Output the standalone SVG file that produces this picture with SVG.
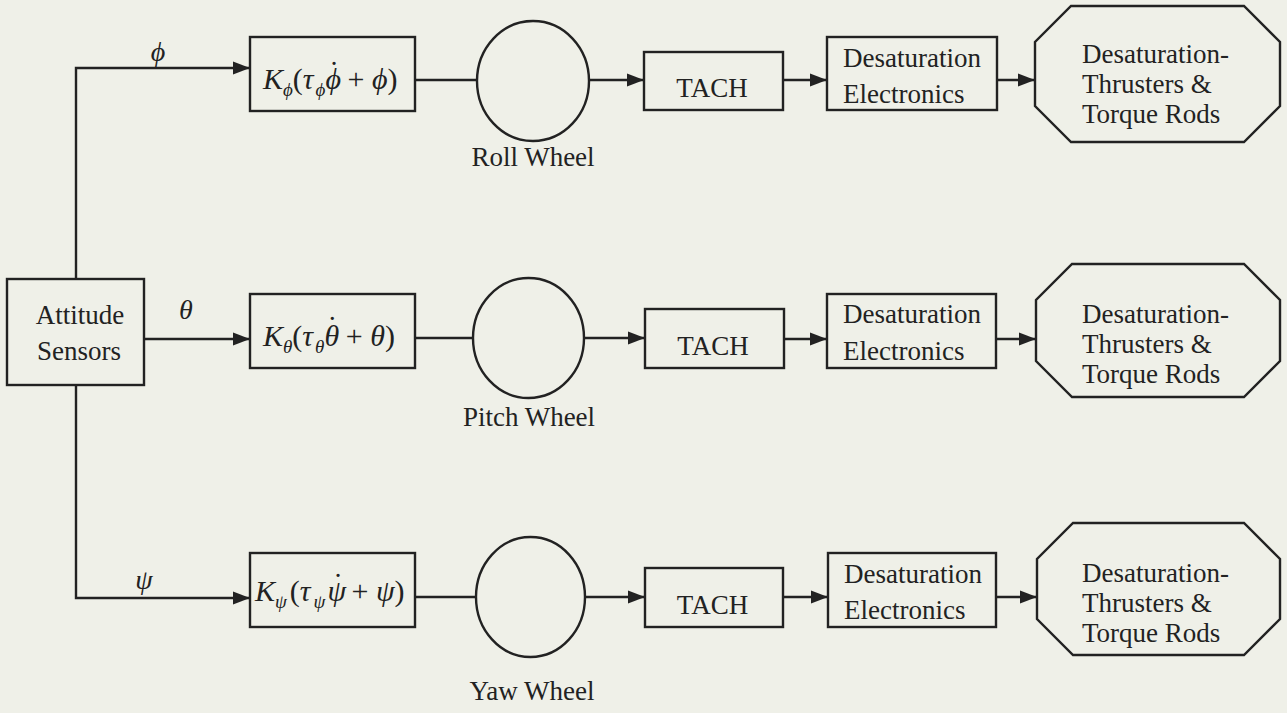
<svg xmlns="http://www.w3.org/2000/svg" width="1287" height="713" viewBox="0 0 1287 713">
<defs>
<marker id="ah" markerUnits="userSpaceOnUse" markerWidth="18" markerHeight="14" refX="17" refY="7" orient="auto">
<path d="M0,0.5 L17,7 L0,13.5 z" fill="#222"/>
</marker>
<style>
.box{fill:none;stroke:#222;stroke-width:2.4}
.ln{fill:none;stroke:#222;stroke-width:2.4}
.ar{fill:none;stroke:#222;stroke-width:2.4;marker-end:url(#ah)}
.t{font-family:"Liberation Serif","Times New Roman",serif;font-size:27px;fill:#222}
.tc{text-anchor:middle}
.m{font-family:"Liberation Serif","DejaVu Serif",serif;font-style:italic;font-size:30px;fill:#222}
.sub{font-size:19px}
.up{font-style:normal}
.lab{font-family:"Liberation Serif","DejaVu Serif",serif;font-style:italic;font-size:28px;fill:#222}
</style>
</defs>
<rect width="1287" height="713" fill="#eff0e8"/>

<g id="connectors">
<path class="ar" d="M76,279 V68 H250"/>
<path class="ar" d="M144,339 H250"/>
<path class="ar" d="M76,385 V598 H250"/>
<path class="ln" d="M415,80 H477"/>
<path class="ln" d="M415,338 H473"/>
<path class="ln" d="M415,597 H476"/>
<path class="ar" d="M589,80 H644"/>
<path class="ar" d="M584,338 H645"/>
<path class="ar" d="M585,597 H645"/>
<path class="ar" d="M783,80 H827"/>
<path class="ar" d="M784,339 H827"/>
<path class="ar" d="M783,597 H828"/>
<path class="ar" d="M997,80 H1035"/>
<path class="ar" d="M996,339 H1036"/>
<path class="ar" d="M996,597 H1037"/>
<text class="lab" x="158" y="61" text-anchor="middle">ϕ</text>
<text class="lab" x="186" y="319" text-anchor="middle">θ</text>
<text class="lab" x="144" y="589" text-anchor="middle">ψ</text>
</g>

<g id="attitude-sensors">
<rect class="box" x="7" y="279" width="137" height="106"/>
<text class="t tc" x="80" y="324" font-size="28">Attitude</text>
<text class="t tc" x="79" y="360" font-size="28">Sensors</text>
</g>

<g id="k-phi">
<rect class="box" x="250" y="37" width="165" height="74"/>
<text class="m" x="263" y="89">K<tspan class="sub" dy="7">ϕ</tspan><tspan dy="-7" class="up">(</tspan>τ<tspan class="sub" dy="7" dx="2">ϕ</tspan><tspan dy="-7">ϕ</tspan><tspan class="up" dx="-12" dy="-7">˙</tspan><tspan class="up" dy="7" dx="1"> + </tspan>ϕ<tspan class="up">)</tspan></text>
</g>
<g id="k-theta">
<rect class="box" x="250" y="294" width="165" height="74"/>
<text class="m" x="263" y="346">K<tspan class="sub" dy="7">θ</tspan><tspan dy="-7" class="up">(</tspan>τ<tspan class="sub" dy="7" dx="2">θ</tspan><tspan dy="-7">θ</tspan><tspan class="up" dx="-12" dy="-9">˙</tspan><tspan class="up" dy="9" dx="1"> + </tspan>θ<tspan class="up">)</tspan></text>
</g>
<g id="k-psi">
<rect class="box" x="250" y="553" width="165" height="74"/>
<text class="m" x="255" y="601">K<tspan class="sub" dy="7">ψ</tspan><tspan dy="-7" class="up" dx="3">(</tspan>τ<tspan class="sub" dy="7" dx="3">ψ</tspan><tspan dy="-7" dx="2">ψ</tspan><tspan class="up" dx="-13" dy="-7">˙</tspan><tspan class="up" dy="7" dx="1"> + </tspan>ψ<tspan class="up">)</tspan></text>
</g>

<g id="roll-wheel">
<ellipse class="box" cx="533" cy="81" rx="56" ry="60"/>
<text class="t tc" x="533" y="166">Roll Wheel</text>
</g>
<g id="pitch-wheel">
<ellipse class="box" cx="528.5" cy="338" rx="55.5" ry="60"/>
<text class="t tc" x="529" y="426">Pitch Wheel</text>
</g>
<g id="yaw-wheel">
<ellipse class="box" cx="530.5" cy="597" rx="54.5" ry="60"/>
<text class="t tc" x="532" y="700">Yaw Wheel</text>
</g>

<g id="tach-1">
<rect class="box" x="644" y="52" width="139" height="58"/>
<text class="t tc" x="712" y="97" font-size="31">TACH</text>
</g>
<g id="tach-2">
<rect class="box" x="645" y="309" width="139" height="59"/>
<text class="t tc" x="713" y="355" font-size="31">TACH</text>
</g>
<g id="tach-3">
<rect class="box" x="645" y="568" width="138" height="59"/>
<text class="t tc" x="712.5" y="614" font-size="31">TACH</text>
</g>

<g id="desat-elec-1">
<rect class="box" x="827" y="37" width="170" height="73"/>
<text class="t" x="843" y="67" font-size="28">Desaturation</text>
<text class="t" x="843" y="103" font-size="28">Electronics</text>
</g>
<g id="desat-elec-2">
<rect class="box" x="827" y="294" width="169" height="74"/>
<text class="t" x="843" y="323" font-size="28">Desaturation</text>
<text class="t" x="843" y="360" font-size="28">Electronics</text>
</g>
<g id="desat-elec-3">
<rect class="box" x="828" y="553" width="168" height="74"/>
<text class="t" x="844" y="583" font-size="28">Desaturation</text>
<text class="t" x="844" y="619" font-size="28">Electronics</text>
</g>

<g id="thrusters-1">
<polygon class="box" points="1071,6 1244,6 1280,42 1280,106 1244,142 1071,142 1035,106 1035,42"/>
<text class="t" x="1082" y="63">Desaturation-</text>
<text class="t" x="1082" y="93">Thrusters &amp;</text>
<text class="t" x="1082" y="123">Torque Rods</text>
</g>
<g id="thrusters-2">
<polygon class="box" points="1072,264 1244,264 1280,300 1280,361 1244,397 1072,397 1036,361 1036,300"/>
<text class="t" x="1082" y="323">Desaturation-</text>
<text class="t" x="1082" y="353">Thrusters &amp;</text>
<text class="t" x="1082" y="383">Torque Rods</text>
</g>
<g id="thrusters-3">
<polygon class="box" points="1073,523 1244,523 1280,559 1280,619 1244,655 1073,655 1037,619 1037,559"/>
<text class="t" x="1082" y="582">Desaturation-</text>
<text class="t" x="1082" y="612">Thrusters &amp;</text>
<text class="t" x="1082" y="642">Torque Rods</text>
</g>
</svg>
